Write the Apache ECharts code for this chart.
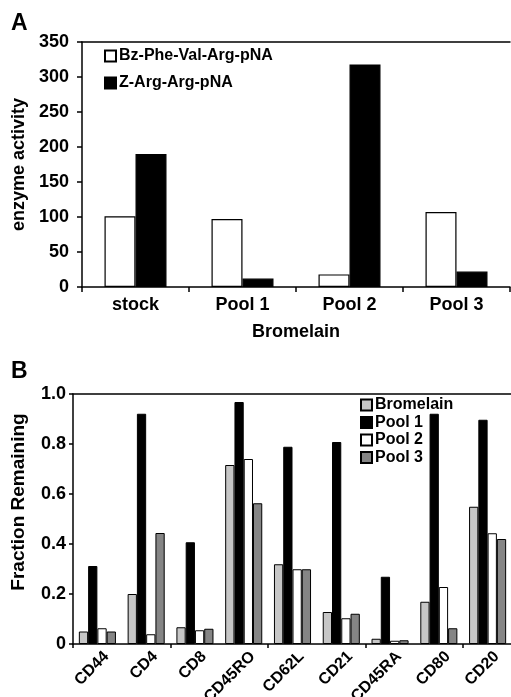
<!DOCTYPE html>
<html>
<head>
<meta charset="utf-8">
<script src="https://cdn.jsdelivr.net/npm/echarts@6/dist/echarts.min.js"></script>
<style>
html,body{margin:0;padding:0;background:#fff;}
#c{width:511px;height:697px;}
</style>
</head>
<body>
<div id="c"></div>
<script>
// Panel A data
const catsA = ['stock', 'Pool 1', 'Pool 2', 'Pool 3'];
const bzPheValArg = [101, 97, 18, 107];
const zArgArg = [190, 12, 318, 22];
const ticksA = { min: 0, max: 350, interval: 50 };

// Panel B data
const catsB = ['CD44', 'CD4', 'CD8', 'CD45RO', 'CD62L', 'CD21', 'CD45RA', 'CD80', 'CD20'];
const bromelain = [0.05, 0.20, 0.067, 0.716, 0.319, 0.128, 0.021, 0.169, 0.549];
const pool1 = [0.312, 0.921, 0.407, 0.968, 0.789, 0.808, 0.269, 0.921, 0.897];
const pool2 = [0.063, 0.039, 0.055, 0.74, 0.299, 0.103, 0.013, 0.228, 0.443];
const pool3 = [0.05, 0.444, 0.061, 0.563, 0.299, 0.121, 0.015, 0.063, 0.42];
const ticksB = { min: 0, max: 1, interval: 0.2 };

const FONT = 'Liberation Sans, Arial, sans-serif';
const axisLine = { show: true, lineStyle: { color: '#000', width: 1.5 } };
const txt = (size) => ({ color: '#000', fontFamily: FONT, fontWeight: 'bold', fontSize: size });

const chart = echarts.init(document.getElementById('c'), null, { renderer: 'canvas' });
chart.setOption({
  animation: false,
  backgroundColor: '#fff',
  graphic: [
    { type: 'text', left: 11, top: 12, style: { text: 'A', font: 'bold 23px ' + FONT, fill: '#000' } },
    { type: 'text', left: 11, top: 360, style: { text: 'B', font: 'bold 23px ' + FONT, fill: '#000' } }
  ],
  legend: [
    {
      left: 99, top: 43, orient: 'vertical', itemWidth: 11, itemHeight: 11, itemGap: 11,
      icon: 'rect', textStyle: Object.assign(txt(16), { padding: [0, 0, 0, -2] }),
      data: ['Bz-Phe-Val-Arg-pNA', 'Z-Arg-Arg-pNA']
    },
    {
      left: 355, top: 392, orient: 'vertical', itemWidth: 11, itemHeight: 11, itemGap: 1.5,
      icon: 'rect', textStyle: Object.assign(txt(16), { padding: [0, 0, 0, -2] }),
      data: ['Bromelain', 'Pool 1', 'Pool 2', 'Pool 3']
    }
  ],
  grid: [
    { left: 82, top: 42, width: 428, height: 245, outerBoundsMode: 'none', containLabel: false },
    { left: 73, top: 394, width: 439, height: 250, outerBoundsMode: 'none', containLabel: false },
    { left: 82, top: 394, width: 439, height: 250, outerBoundsMode: 'none', containLabel: false }
  ],
  xAxis: [
    {
      gridIndex: 0, type: 'category', data: catsA, position: 'bottom',
      axisLine: axisLine, axisTick: { show: true, length: 5, lineStyle: { color: '#000', width: 1.5 } },
      axisLabel: Object.assign(txt(18), { margin: 9 }),
      name: 'Bromelain', nameLocation: 'middle', nameGap: 36, nameTextStyle: txt(18)
    },
    {
      gridIndex: 0, type: 'category', data: catsA, position: 'top',
      axisLine: axisLine, axisTick: { show: false }, axisLabel: { show: false }
    },
    {
      gridIndex: 1, type: 'category', data: catsB, position: 'bottom',
      axisLine: axisLine, axisTick: { show: true, length: 4, lineStyle: { color: '#000', width: 1.5 } },
      axisLabel: { show: false }
    },
    {
      gridIndex: 1, type: 'category', data: catsB, position: 'top',
      axisLine: axisLine, axisTick: { show: false }, axisLabel: { show: false }
    },
    {
      gridIndex: 2, type: 'category', data: catsB, position: 'bottom',
      axisLine: { show: false }, axisTick: { show: false },
      axisLabel: Object.assign(txt(16), { rotate: 45, margin: 10, interval: 0 })
    }
  ],
  yAxis: [
    {
      gridIndex: 0, type: 'value', min: ticksA.min, max: ticksA.max, interval: ticksA.interval,
      splitLine: { show: false }, axisLine: axisLine,
      axisTick: { show: true, length: 5, lineStyle: { color: '#000', width: 1.5 } },
      axisLabel: Object.assign(txt(18), { margin: 13 }),
      name: 'enzyme activity', nameLocation: 'middle', nameGap: 51, nameTextStyle: txt(18)
    },
    {
      gridIndex: 1, type: 'value', min: ticksB.min, max: ticksB.max, interval: ticksB.interval,
      splitLine: { show: false }, axisLine: axisLine,
      axisTick: { show: true, length: 4, lineStyle: { color: '#000', width: 1.5 } },
      axisLabel: Object.assign(txt(18), { margin: 7, formatter: v => v === 0 ? '0' : v.toFixed(1) }),
      name: 'Fraction Remaining', nameLocation: 'middle', nameGap: 45,
      nameTextStyle: Object.assign(txt(19), { padding: [0, 0, 0, 34] })
    },
    {
      gridIndex: 2, type: 'value', min: 0, max: 1, show: false
    }
  ],
  series: [
    { name: 'Bz-Phe-Val-Arg-pNA', type: 'bar', xAxisIndex: 0, yAxisIndex: 0, data: bzPheValArg,
      barWidth: 31, barGap: '0%', itemStyle: { color: '#fff', borderColor: '#000', borderWidth: 1.2 } },
    { name: 'Z-Arg-Arg-pNA', type: 'bar', xAxisIndex: 0, yAxisIndex: 0, data: zArgArg,
      barWidth: 31, barGap: '0%', itemStyle: { color: '#000', borderColor: '#000', borderWidth: 1.2 } },
    { name: 'Bromelain', type: 'bar', xAxisIndex: 2, yAxisIndex: 1, data: bromelain,
      barGap: '0%', barCategoryGap: '24%', itemStyle: { color: '#c6c6c6', borderColor: '#000', borderWidth: 1 } },
    { name: 'Pool 1', type: 'bar', xAxisIndex: 2, yAxisIndex: 1, data: pool1,
      barGap: '0%', barCategoryGap: '24%', itemStyle: { color: '#000', borderColor: '#000', borderWidth: 1 } },
    { name: 'Pool 2', type: 'bar', xAxisIndex: 2, yAxisIndex: 1, data: pool2,
      barGap: '0%', barCategoryGap: '24%', itemStyle: { color: '#fff', borderColor: '#000', borderWidth: 1 } },
    { name: 'Pool 3', type: 'bar', xAxisIndex: 2, yAxisIndex: 1, data: pool3,
      barGap: '0%', barCategoryGap: '24%', itemStyle: { color: '#858585', borderColor: '#000', borderWidth: 1 } }
  ]
});
</script>
</body>
</html>
